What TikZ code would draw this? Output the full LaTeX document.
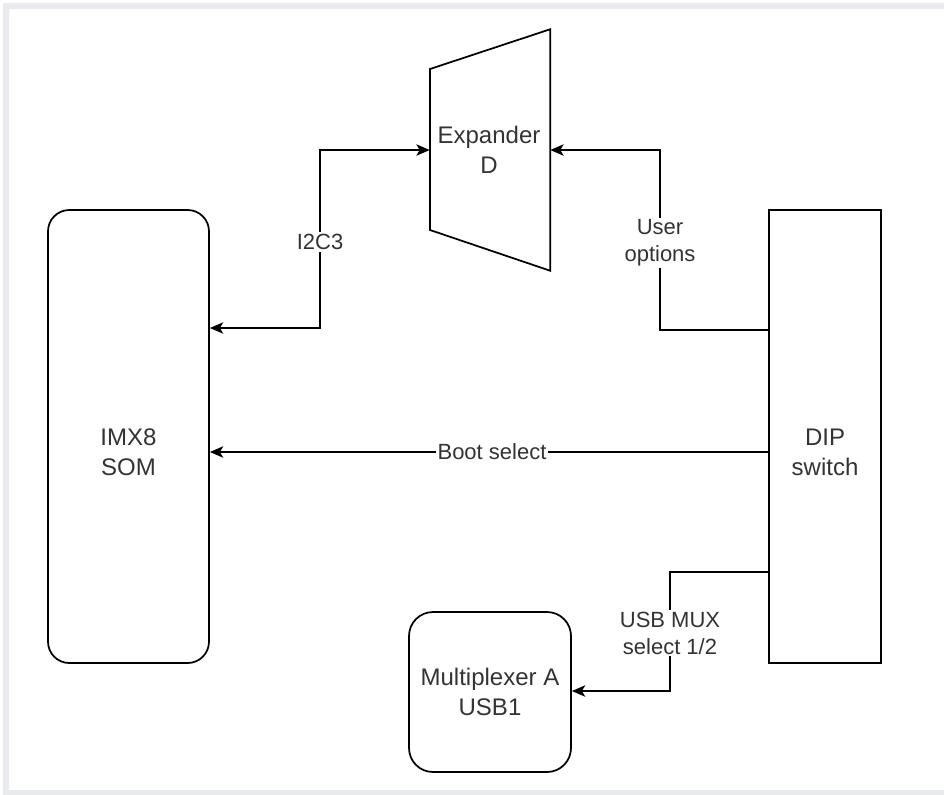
\documentclass[tikz,border=0pt]{standalone}
\usepackage{fontspec}
\setmainfont{Liberation Sans}
\usetikzlibrary{arrows.meta}
\definecolor{txtc}{HTML}{333333}
\definecolor{framec}{HTML}{E8EAED}
\begin{document}
\begin{tikzpicture}[x=0.75pt,y=-0.75pt,
  shapebox/.style={draw, line width=1.3pt, inner sep=0pt},
  txtnode/.style={text=txtc, font=\fontsize{18}{22.5}\selectfont, align=center, inner sep=0pt},
  lbl/.style={fill=white, text=txtc, font=\fontsize{16.5}{20.25}\selectfont, align=center, inner sep=1.5pt},
  conn/.style={line width=1.3pt, -{Stealth[length=10pt,width=8.5pt,inset=2.5pt]}},
  biconn/.style={line width=1.3pt, {Stealth[length=10pt,width=8.5pt,inset=2.5pt]}-{Stealth[length=10pt,width=8.5pt,inset=2.5pt]}}
]
\useasboundingbox (0,0) rectangle (944,794);
\fill[framec, even odd rule] (3,3) rectangle (960,810) (9,9) rectangle (960,790);

% nodes
\node[shapebox, rounded corners=16pt, minimum width=120.75pt, minimum height=339.75pt] (imx) at (128.5,436.5) {};
\node[txtnode] (imxt) at (128.5,452) {IMX8\\SOM};
\node[shapebox, minimum width=84pt, minimum height=339.75pt] (dip) at (825,436.5) {};
\node[txtnode] (dipt) at (825,452) {DIP\\switch};
\node[shapebox, rounded corners=18pt, minimum width=121.5pt, minimum height=120pt] (mux) at (490,692) {};
\node[txtnode] (muxt) at (490,692) {Multiplexer A\\USB1};
\node[inner sep=0pt, minimum width=90pt, minimum height=180.75pt] (exp) at (490,150) {};
\draw[line width=1.3pt, line join=miter] (430,69) -- (exp.north east) -- (exp.south east) -- (430,230) -- cycle;
\node[txtnode] (expt) at (489,150) {Expander\\D};

% bend points
\coordinate (i2ct) at (320,150);
\coordinate (i2cb) at (320,328);
\coordinate (ut) at (660,150);
\coordinate (ub) at (660,330);
\coordinate (boot) at (492,452);
\coordinate (ua) at (670,572);
\coordinate (ubm) at (670,691);

% connectors
\draw[biconn] (imx.east |- i2cb) -- (i2cb) -- (i2ct) -- (exp.west);
\draw[conn] (dip.west |- ub) -- (ub) -- (ut) -- (exp.east);
\draw[conn] (dip.west |- boot) -- (imx.east |- boot);
\draw[conn] (dip.west |- ua) -- (ua) -- (ubm) -- (mux.east |- ubm);

% labels
\node[lbl] (l1) at (320,242) {I2C3};
\node[lbl] (l2) at (660,243) {User\\options};
\node[lbl] (l3) at (492,452) {Boot select};
\node[lbl] (l4) at (670,633) {USB MUX\\select 1/2};
\end{tikzpicture}
\end{document}
